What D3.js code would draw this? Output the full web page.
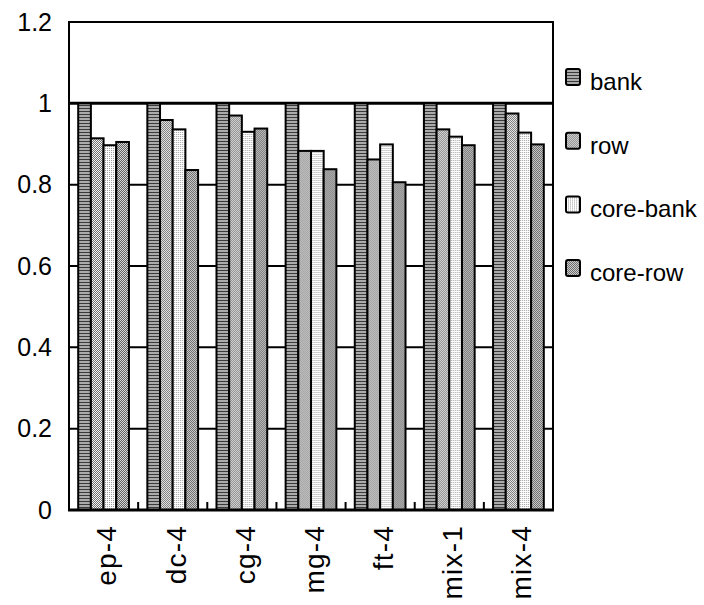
<!DOCTYPE html>
<html>
<head>
<meta charset="utf-8">
<script src="https://cdn.jsdelivr.net/npm/d3@7"></script>
<style>
  html, body { margin: 0; padding: 0; background: #fff; }
  svg { display: block; }
</style>
</head>
<body>
<script>
const categories = ["ep-4", "dc-4", "cg-4", "mg-4", "ft-4", "mix-1", "mix-4"];
const seriesNames = ["bank", "row", "core-bank", "core-row"];
const bank     = [1, 1, 1, 1, 1, 1, 1];
const row      = [0.914, 0.959, 0.970, 0.883, 0.862, 0.936, 0.975];
const coreBank = [0.897, 0.936, 0.930, 0.883, 0.899, 0.918, 0.928];
const coreRow  = [0.905, 0.836, 0.938, 0.838, 0.806, 0.897, 0.899];
const yTicks = [0, 0.2, 0.4, 0.6, 0.8, 1, 1.2];

const seriesValues = [bank, row, coreBank, coreRow];
const patternIds = ["pBank", "pRow", "pCoreBank", "pCoreRow"];

const W = 704, H = 605;
const mLeft = 69, mRight = 553, mTop = 22, mBottom = 510;

const svg = d3.select("body").append("svg").attr("width", W).attr("height", H);
const defs = svg.append("defs");

function pattern(id, w, h, cells) {
  const p = defs.append("pattern").attr("id", id)
    .attr("patternUnits", "userSpaceOnUse").attr("width", w).attr("height", h);
  cells.forEach(c => p.append("rect").attr("x", c[0]).attr("y", c[1])
    .attr("width", c[2]).attr("height", c[3]).attr("fill", c[4])
    .attr("shape-rendering", "crispEdges"));
}
pattern("pBank", 4, 3, [[0, 0, 4, 3, "#ababab"], [0, 0, 4, 1, "#3a3a3a"]]);
pattern("pRow", 2, 2, [[0, 0, 2, 2, "#f4f4f4"], [0, 0, 1, 1, "#707070"], [1, 1, 1, 1, "#707070"]]);
pattern("pCoreBank", 2, 2, [[0, 0, 2, 2, "#ffffff"], [0, 0, 1, 1, "#a0a0a0"]]);
pattern("pCoreRow", 2, 2, [[0, 0, 2, 2, "#d8d8d8"], [0, 0, 1, 1, "#606060"], [1, 1, 1, 1, "#606060"]]);

const x0 = d3.scaleBand().domain(categories).range([mLeft, mRight]).paddingInner(0).paddingOuter(0);
const bw = x0.bandwidth();
const x1 = d3.scaleBand().domain(seriesNames).range([9.2, bw - 9.2]).padding(0);
const y = d3.scaleLinear().domain([0, 1.2]).range([mBottom, mTop]);

// gridlines
svg.append("g").selectAll("line").data(yTicks.filter(t => t > 0 && t < 1.2)).join("line")
  .attr("x1", mLeft).attr("x2", mRight)
  .attr("y1", d => y(d)).attr("y2", d => y(d))
  .attr("stroke", "#000").attr("stroke-width", d => d === 1 ? 3 : 2);

// bars
const groups = svg.append("g").selectAll("g").data(categories).join("g")
  .attr("transform", d => `translate(${x0(d)},0)`);
groups.selectAll("rect").data((c, ci) => seriesNames.map((s, si) => ({ s, si, v: seriesValues[si][ci] })))
  .join("rect")
  .attr("x", d => x1(d.s))
  .attr("y", d => y(d.v))
  .attr("width", x1.bandwidth())
  .attr("height", d => y(0) - y(d.v))
  .attr("fill", d => `url(#${patternIds[d.si]})`)
  .attr("stroke", "#000").attr("stroke-width", 2);

// frame
svg.append("rect").attr("x", mLeft).attr("y", mTop).attr("width", mRight - mLeft).attr("height", mBottom - mTop)
  .attr("fill", "none").attr("stroke", "#000").attr("stroke-width", 2);
svg.append("line").attr("x1", mLeft - 1).attr("x2", mRight + 1).attr("y1", mBottom).attr("y2", mBottom)
  .attr("stroke", "#000").attr("stroke-width", 3);

// y axis labels
const yAxis = d3.axisLeft(y).tickValues(yTicks).tickSize(0).tickPadding(17)
  .tickFormat(d => d3.format("")(+d.toFixed(1)));
const yg = svg.append("g").attr("transform", `translate(${mLeft},0)`).call(yAxis);
yg.select(".domain").remove();
yg.selectAll("text").attr("font-family", "'Liberation Sans', Arial, sans-serif")
  .attr("font-size", 25).attr("fill", "#000");

// category ticks (inside, at band boundaries)
svg.append("g").selectAll("line").data(categories.slice(1)).join("line")
  .attr("x1", d => x0(d)).attr("x2", d => x0(d))
  .attr("y1", mBottom).attr("y2", mBottom - 8)
  .attr("stroke", "#000").attr("stroke-width", 2);

// category labels
svg.append("g").selectAll("text").data(categories).join("text")
  .attr("transform", d => `translate(${x0(d) + bw / 2 + 3},525) rotate(-90)`)
  .attr("text-anchor", "end").attr("dy", "0.35em")
  .attr("font-family", "'Liberation Sans', Arial, sans-serif")
  .attr("font-size", 28).attr("letter-spacing", 1.2).attr("fill", "#000")
  .text(d => d);

// legend
const leg = svg.append("g").selectAll("g").data(seriesNames).join("g")
  .attr("transform", (d, i) => `translate(566,${69 + i * 63.7})`);
leg.append("rect").attr("x", 0).attr("y", 0).attr("width", 14).attr("height", 16).attr("rx", 2)
  .attr("fill", (d, i) => `url(#${patternIds[i]})`).attr("stroke", "#000").attr("stroke-width", 2);
leg.append("text").attr("x", 24).attr("y", 21)
  .attr("font-family", "'Liberation Sans', Arial, sans-serif")
  .attr("font-size", 24).attr("fill", "#000")
  .text(d => d);
</script>
</body>
</html>
